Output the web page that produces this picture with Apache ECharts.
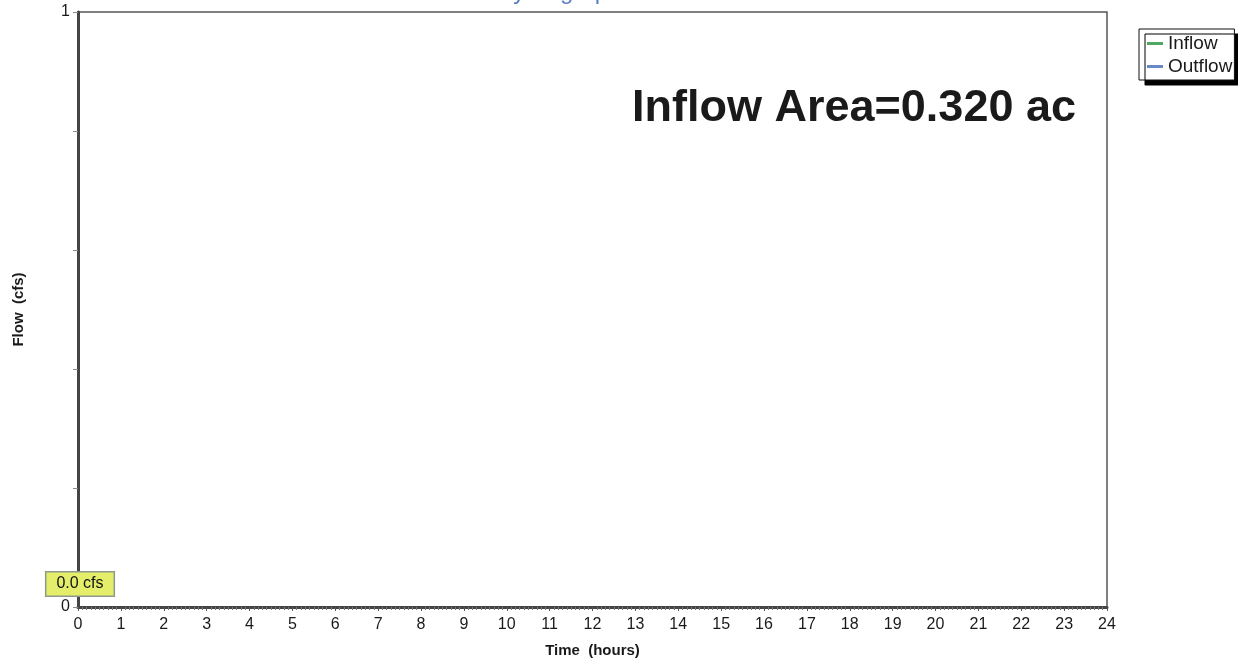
<!DOCTYPE html>
<html>
<head>
<meta charset="utf-8">
<script src="https://cdn.jsdelivr.net/npm/echarts@6/dist/echarts.min.js"></script>
<style>
  html, body { margin: 0; padding: 0; background: #fff; }
  #chart { width: 1238px; height: 662px; }
</style>
</head>
<body>
<div id="chart"></div>
<script>
// Hourly time stamps (hours) and routed flows (cfs)
const hours   = [0,1,2,3,4,5,6,7,8,9,10,11,12,13,14,15,16,17,18,19,20,21,22,23,24];
const inflow  = [0,0,0,0,0,0,0,0,0,0,0,0,0,0,0,0,0,0,0,0,0,0,0,0,0];
const outflow = [0,0,0,0,0,0,0,0,0,0,0,0,0,0,0,0,0,0,0,0,0,0,0,0,0];
const yTickLabels = ['0', '1'];
const peakOutflow = Math.max(...outflow);

const FONT = '"Liberation Sans", Arial, Helvetica, sans-serif';
const chart = echarts.init(document.getElementById('chart'), null, { renderer: 'canvas' });

chart.setOption({
  animation: false,
  backgroundColor: '#ffffff',
  title: {
    text: 'Hydrograph',
    left: 491,
    top: -25,
    textStyle: { color: '#5b7fc7', fontFamily: FONT, fontSize: 24, fontWeight: 'normal' }
  },
  legend: {
    orient: 'vertical',
    left: 1139,
    top: 29,
    padding: [5, 2, 4, 8],
    itemGap: 4,
    itemWidth: 16,
    itemHeight: 3,
    icon: 'rect',
    backgroundColor: '#ffffff',
    borderColor: '#111111',
    borderWidth: 1,
    shadowColor: '#000000',
    shadowBlur: 0,
    shadowOffsetX: 6,
    shadowOffsetY: 5,
    textStyle: { fontFamily: FONT, fontSize: 19, color: '#1a1a1a' },
    data: ['Inflow', 'Outflow']
  },
  grid: {
    left: 78, right: 131, top: 12, bottom: 55,
    outerBoundsMode: 'none',
    show: true,
    borderColor: '#555555',
    borderWidth: 1.5,
    backgroundColor: '#ffffff'
  },
  xAxis: {
    type: 'value',
    min: 0, max: 24, interval: 1,
    z: 5,
    name: 'Time  (hours)',
    nameLocation: 'middle',
    nameGap: 36,
    nameTextStyle: { fontFamily: FONT, fontSize: 15, fontWeight: 'bold', color: '#1a1a1a' },
    axisLine: { show: true, onZero: false, lineStyle: { color: '#444', width: 3 } },
    axisTick: { show: true, length: 4, lineStyle: { color: '#555', width: 1 } },
    minorTick: { show: true, splitNumber: 10, length: 3, lineStyle: { color: '#777', width: 1 } },
    axisLabel: { fontFamily: FONT, fontSize: 16, color: '#1a1a1a', margin: 10 },
    splitLine: { show: false }
  },
  yAxis: {
    type: 'value',
    min: 0, max: 1, interval: 0.2,
    z: 5,
    name: 'Flow  (cfs)',
    nameLocation: 'middle',
    nameGap: 52,
    nameTextStyle: { fontFamily: FONT, fontSize: 15, fontWeight: 'bold', color: '#1a1a1a' },
    axisLine: { show: true, onZero: false, lineStyle: { color: '#444', width: 3 } },
    axisTick: { show: true, length: 5, lineStyle: { color: '#888', width: 1 } },
    axisLabel: {
      fontFamily: FONT, fontSize: 16, color: '#1a1a1a', margin: 8,
      formatter: v => (v === 0 ? yTickLabels[0] : (v === 1 ? yTickLabels[1] : ''))
    },
    splitLine: { show: false }
  },
  series: [
    {
      name: 'Inflow',
      type: 'line',
      z: 1,
      showSymbol: false,
      color: '#4fa862',
      lineStyle: { width: 2 },
      data: hours.map((h, i) => [h, inflow[i]])
    },
    {
      name: 'Outflow',
      type: 'line',
      z: 1,
      showSymbol: false,
      color: '#6a87c8',
      lineStyle: { width: 2 },
      data: hours.map((h, i) => [h, outflow[i]]),
      markPoint: {
        symbol: 'rect',
        symbolSize: 0,
        data: [{ coord: [0, peakOutflow], value: peakOutflow }],
        label: {
          show: true,
          position: 'inside',
          offset: [2, -23],
          formatter: p => p.value.toFixed(1) + ' cfs',
          fontFamily: FONT,
          fontSize: 16,
          color: '#111',
          backgroundColor: '#e4ee6a',
          borderColor: '#8c9a8c',
          borderWidth: 1.5,
          padding: [4, 10, 3, 10]
        }
      }
    }
  ],
  graphic: [
    {
      type: 'text',
      right: 1238 - 1076,
      top: 86,
      z: 10,
      style: {
        text: 'Inflow Area=0.320 ac',
        fontFamily: FONT,
        fontSize: 45,
        fontWeight: 'bold',
        fill: '#1a1a1a'
      }
    }
  ]
});
</script>
</body>
</html>
